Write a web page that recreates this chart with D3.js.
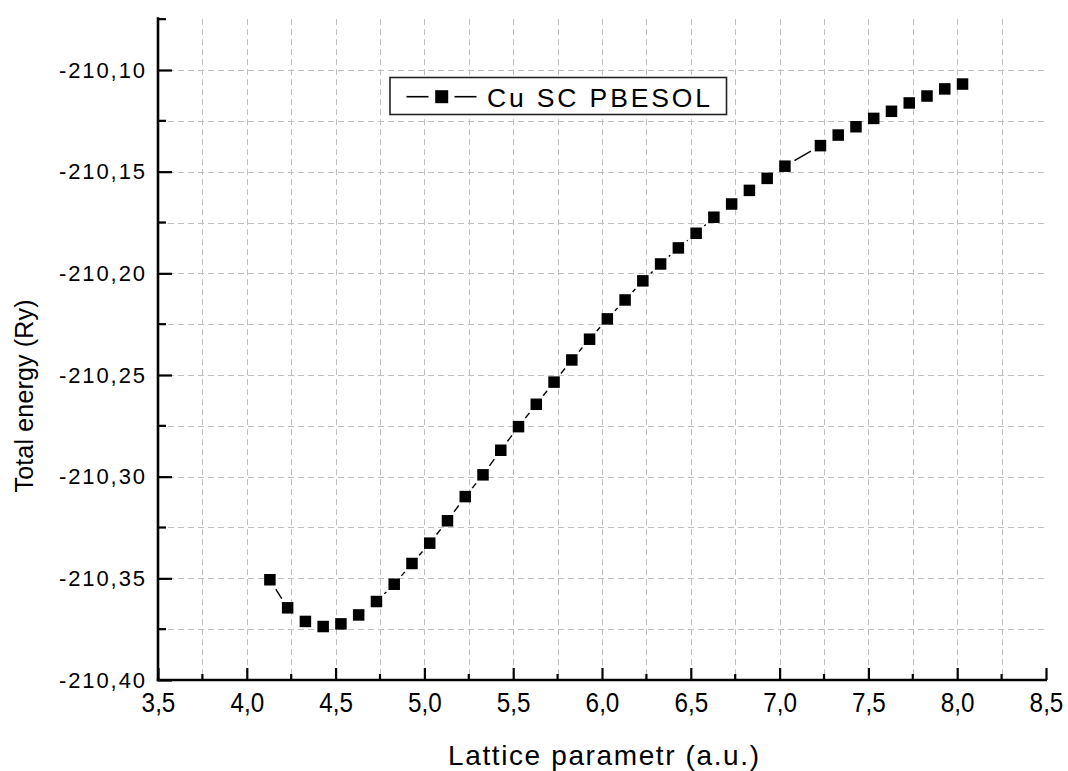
<!DOCTYPE html>
<html>
<head>
<meta charset="utf-8">
<script src="https://cdn.jsdelivr.net/npm/d3@7"></script>
<style>
  html, body { margin: 0; padding: 0; background: #fff; }
  svg { display: block; font-family: "Liberation Sans", Arial, sans-serif; }
</style>
</head>
<body>
<svg id="chart" width="1068" height="771"></svg>
<script>
// ---- data ----
const latticeParam = [4.13, 4.23, 4.33, 4.43, 4.53, 4.63, 4.73, 4.83, 4.93, 5.03,
  5.13, 5.23, 5.33, 5.43, 5.53, 5.63, 5.73, 5.83, 5.93, 6.03,
  6.13, 6.23, 6.33, 6.43, 6.53, 6.63, 6.73, 6.83, 6.93, 7.03,
  7.23, 7.33, 7.43, 7.53, 7.63, 7.73, 7.83, 7.93, 8.03];
const totalEnergy = [-210.3507, -210.3645, -210.3712, -210.3737, -210.3724, -210.3680, -210.3614, -210.3529, -210.3427, -210.3327,
  -210.3217, -210.3098, -210.2991, -210.2870, -210.2754, -210.2644, -210.2535, -210.2426, -210.2324, -210.2224,
  -210.2131, -210.2037, -210.1954, -210.1875, -210.1803, -210.1724, -210.1659, -210.1592, -210.1533, -210.1473,
  -210.1372, -210.1320, -210.1279, -210.1238, -210.1203, -210.1162, -210.1128, -210.1093, -210.1069];
const xMajorTicks = [3.5, 4.0, 4.5, 5.0, 5.5, 6.0, 6.5, 7.0, 7.5, 8.0, 8.5];
const xMinorTicks = [3.75, 4.25, 4.75, 5.25, 5.75, 6.25, 6.75, 7.25, 7.75, 8.25];
const yMajorTicks = [-210.40, -210.35, -210.30, -210.25, -210.20, -210.15, -210.10];
const yMinorTicks = [-210.375, -210.325, -210.275, -210.225, -210.175, -210.125, -210.075];
const seriesName = "Cu SC PBESOL";
const xTitle = "Lattice parametr (a.u.)";
const yTitle = "Total energy (Ry)";

// ---- layout ----
const svg = d3.select("#chart");
const left = 158, right = 1046, bottom = 680, y10 = 70;
const x = d3.scaleLinear().domain([3.5, 8.5]).range([left, right]);
const y = d3.scaleLinear().domain([-210.40, -210.10]).range([bottom, y10]);

const loc = d3.formatLocale({decimal: ",", thousands: " ", grouping: [3], currency: ["", ""], minus: "-"});
const fx = loc.format(".1f"), fy = loc.format(".2f");

// ---- grid ----
const gridColor = "#bfbfbf";
const xGrid = xMajorTicks.concat(xMinorTicks).filter(v => v > 3.5 && v < 8.5);
const yGrid = yMajorTicks.concat(yMinorTicks).filter(v => v > -210.40 && v < -210.09);
const grid = svg.append("g").attr("stroke", gridColor).attr("stroke-width", 1).attr("stroke-dasharray", "6,4");
grid.selectAll("line.vx").data(xGrid).join("line")
  .attr("x1", d => Math.round(x(d)) + 0.5).attr("x2", d => Math.round(x(d)) + 0.5)
  .attr("y1", y(-210.075)).attr("y2", bottom);
grid.selectAll("line.hy").data(yGrid).join("line")
  .attr("x1", left).attr("x2", right)
  .attr("y1", d => Math.round(y(d)) + 0.5).attr("y2", d => Math.round(y(d)) + 0.5);

// ---- axes ----
const axisColor = "#000";
// Y axis
const yAxisG = svg.append("g").attr("transform", `translate(${left},0)`);
yAxisG.call(d3.axisLeft(y).tickValues(yMajorTicks).tickSize(-14).tickPadding(13).tickFormat(fy));
yAxisG.select(".domain").remove();
yAxisG.selectAll(".tick line").attr("stroke", axisColor).attr("stroke-width", 2.2);
yAxisG.selectAll(".tick text")
  .attr("font-size", 22).attr("fill", "#000")
  .attr("font-family", "Liberation Sans, Arial, sans-serif")
  .attr("textLength", 86).attr("lengthAdjust", "spacing");
yAxisG.selectAll("line.minor").data(yMinorTicks).join("line")
  .attr("class", "minor")
  .attr("x1", 0).attr("x2", 8)
  .attr("y1", d => y(d)).attr("y2", d => y(d))
  .attr("stroke", axisColor).attr("stroke-width", 2.2);
yAxisG.append("line").attr("x1", 0).attr("x2", 0)
  .attr("y1", y(-210.075) - 2).attr("y2", bottom + 1.3)
  .attr("stroke", axisColor).attr("stroke-width", 2.6);

// X axis
const xAxisG = svg.append("g").attr("transform", `translate(0,${bottom})`);
xAxisG.call(d3.axisBottom(x).tickValues(xMajorTicks).tickSize(-12).tickPadding(13).tickFormat(fx));
xAxisG.select(".domain").remove();
xAxisG.selectAll(".tick line").attr("stroke", axisColor).attr("stroke-width", 2.2);
xAxisG.selectAll(".tick text")
  .attr("font-size", 27).attr("fill", "#000")
  .attr("font-family", "Liberation Sans, Arial, sans-serif")
  .attr("transform", "scale(0.9,1)");
xAxisG.selectAll("line.minor").data(xMinorTicks).join("line")
  .attr("class", "minor")
  .attr("x1", d => x(d)).attr("x2", d => x(d))
  .attr("y1", 0).attr("y2", -6)
  .attr("stroke", axisColor).attr("stroke-width", 2.2);
xAxisG.append("line").attr("x1", left - 1.3).attr("x2", right + 1)
  .attr("y1", 0).attr("y2", 0)
  .attr("stroke", axisColor).attr("stroke-width", 2.6);

// ---- titles ----
svg.append("text")
  .attr("x", (448 + 759) / 2).attr("y", 765)
  .attr("text-anchor", "middle").attr("font-size", 28).attr("fill", "#000")
  .attr("textLength", 311).attr("lengthAdjust", "spacing")
  .text(xTitle);
svg.append("text")
  .attr("transform", "translate(33,396) rotate(-90)")
  .attr("text-anchor", "middle").attr("font-size", 25).attr("fill", "#000")
  .attr("textLength", 193).attr("lengthAdjust", "spacing")
  .text(yTitle);

// ---- series ----
const pts = latticeParam.map((v, i) => [x(v), y(totalEnergy[i])]);
const gap = 11;
const segs = [];
for (let i = 0; i < pts.length - 1; i++) {
  const [x1, y1] = pts[i], [x2, y2] = pts[i + 1];
  const L = Math.hypot(x2 - x1, y2 - y1);
  if (L > 2 * gap + 1) {
    const ux = (x2 - x1) / L, uy = (y2 - y1) / L;
    segs.push([x1 + ux * gap, y1 + uy * gap, x2 - ux * gap, y2 - uy * gap]);
  }
}
svg.append("g").selectAll("line").data(segs).join("line")
  .attr("x1", d => d[0]).attr("y1", d => d[1]).attr("x2", d => d[2]).attr("y2", d => d[3])
  .attr("stroke", "#000").attr("stroke-width", 1.4);
const ms = 11.5;
svg.append("g").selectAll("rect").data(pts).join("rect")
  .attr("x", d => d[0] - ms / 2).attr("y", d => d[1] - ms / 2)
  .attr("width", ms).attr("height", ms).attr("fill", "#000");

// ---- legend ----
const lg = svg.append("g");
lg.append("rect").attr("x", 390).attr("y", 77.5).attr("width", 336.5).attr("height", 37)
  .attr("fill", "#fff").attr("stroke", "#222").attr("stroke-width", 1.6);
lg.append("line").attr("x1", 406.5).attr("x2", 428.5).attr("y1", 96.7).attr("y2", 96.7)
  .attr("stroke", "#000").attr("stroke-width", 1.6);
lg.append("line").attr("x1", 454.5).attr("x2", 476.5).attr("y1", 96.7).attr("y2", 96.7)
  .attr("stroke", "#000").attr("stroke-width", 1.6);
lg.append("rect").attr("x", 441.7 - 6.5).attr("y", 96.7 - 6.5).attr("width", 13).attr("height", 13).attr("fill", "#000");
lg.append("text").attr("x", 487).attr("y", 106.5)
  .attr("font-size", 26.5).attr("fill", "#000")
  .attr("textLength", 223).attr("lengthAdjust", "spacing")
  .text(seriesName);
</script>
</body>
</html>
